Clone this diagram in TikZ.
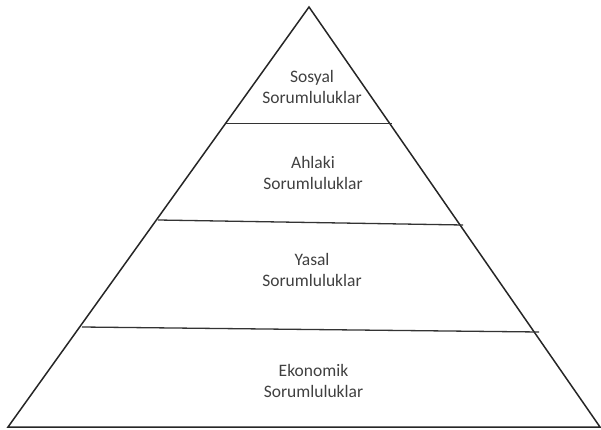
\documentclass[tikz,border=0pt]{standalone}
\usepackage{fontspec}
\setmainfont{Carlito}
\begin{document}
\begin{tikzpicture}[x=1pt,y=-1pt,
  edge/.style={draw=black!85,line width=1.5pt,line join=miter},
  sep/.style={draw=black!80,line width=1.3pt},
  lbl/.style={align=center,font=\fontsize{17.5}{21}\selectfont,text=black!75,inner sep=0pt}]
\useasboundingbox (0,0) rectangle (601,430);
\coordinate (apex) at (309,7);
\coordinate (bl) at (8,427);
\coordinate (br) at (600,427);
\draw[edge] (bl) -- (apex) -- (br) -- cycle;
\coordinate (l1a) at (226,123.5); \coordinate (l1b) at (392,123.5);
\coordinate (l2a) at (158,220); \coordinate (l2b) at (463,225);
\coordinate (l3a) at (82,327); \coordinate (l3b) at (539,332);
\draw[sep] (l1a) -- (l1b);
\draw[sep] (l2a) -- (l2b);
\draw[sep] (l3a) -- (l3b);
\node[lbl] (t1) at (312,87) {Sosyal\\Sorumluluklar};
\node[lbl] (t2) at (313,173) {Ahlaki\\Sorumluluklar};
\node[lbl] (t3) at (312,269.5) {Yasal\\Sorumluluklar};
\node[lbl] (t4) at (313.5,381) {Ekonomik\\Sorumluluklar};
\end{tikzpicture}
\end{document}
